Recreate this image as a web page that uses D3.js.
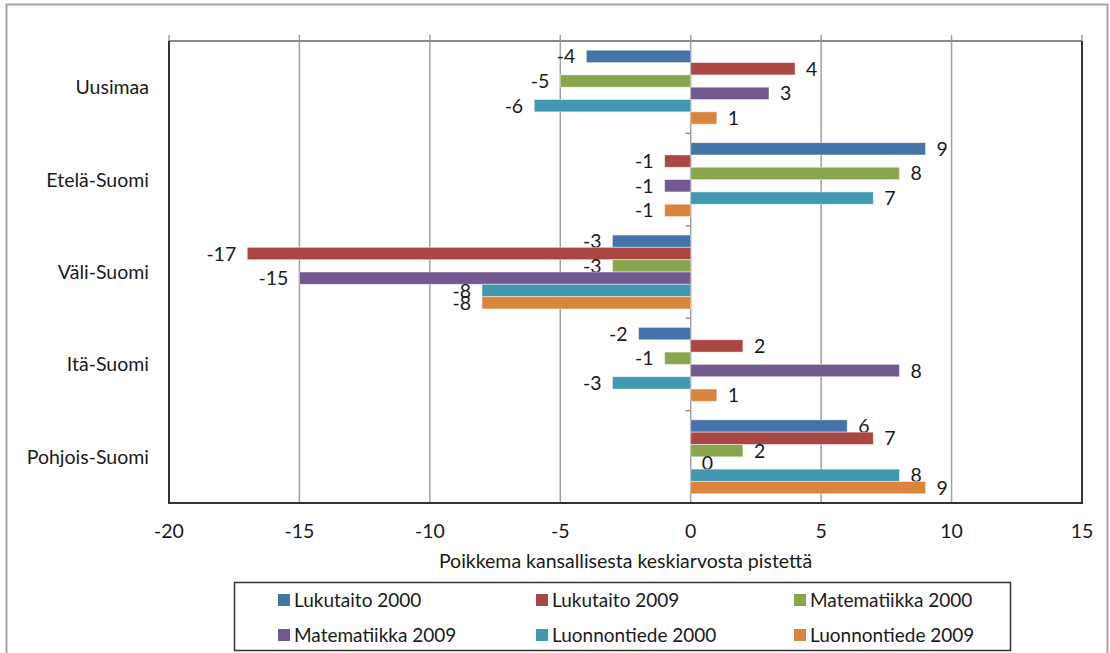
<!DOCTYPE html>
<html>
<head>
<meta charset="utf-8">
<script src="https://cdn.jsdelivr.net/npm/d3@7"></script>
<style>
  body { margin: 0; background: #fff; }
  svg text { font-family: Lato, "Open Sans", sans-serif; fill: #1a1a1a; }
</style>
</head>
<body>
<div id="chart"></div>
<script>
// Poikkema kansallisesta keskiarvosta, alueittain

const categories = ['Uusimaa', 'Etelä-Suomi', 'Väli-Suomi', 'Itä-Suomi', 'Pohjois-Suomi'];
const seriesNames = ['Lukutaito 2000', 'Lukutaito 2009', 'Matematiikka 2000',
                     'Matematiikka 2009', 'Luonnontiede 2000', 'Luonnontiede 2009'];
const lukutaito2000 = [-4, 9, -3, -2, 6];
const lukutaito2009 = [4, -1, -17, 2, 7];
const matematiikka2000 = [-5, 8, -3, -1, 2];
const matematiikka2009 = [3, -1, -15, 8, 0];
const luonnontiede2000 = [-6, 7, -8, -3, 8];
const luonnontiede2009 = [1, -1, -8, 1, 9];
const xTicks = [-20, -15, -10, -5, 0, 5, 10, 15];

const seriesValues = [lukutaito2000, lukutaito2009, matematiikka2000,
                      matematiikka2009, luonnontiede2000, luonnontiede2009];
const colors = ['#4572A7', '#AA4643', '#89A54E', '#71588F', '#4198AF', '#DB843D'];

const W = 1110, H = 653;
const plot = { left: 169, right: 1082, top: 41, bottom: 503 };
const fs = 19.5;
const legendFs = 19;

const svg = d3.select('#chart').append('svg')
  .attr('width', W).attr('height', H);

// outer chart border
svg.append('rect')
  .attr('x', 6.5).attr('y', 4.5).attr('width', 1101).attr('height', 670)
  .attr('fill', 'none').attr('stroke', '#a6a6a6').attr('stroke-width', 2);

const x = d3.scaleLinear().domain([-20, 15]).range([plot.left, plot.right]);
const y = d3.scaleBand().domain(categories).range([plot.top, plot.bottom]);
const yInner = d3.scaleBand().domain(d3.range(seriesNames.length))
  .range([0, y.bandwidth()]).paddingInner(0).paddingOuter(0.75);

// gridlines + top tick marks
svg.append('g').selectAll('line')
  .data(xTicks.filter(d => d > -20 && d < 15))
  .join('line')
  .attr('x1', d => x(d)).attr('x2', d => x(d))
  .attr('y1', plot.top - 6).attr('y2', plot.bottom)
  .attr('stroke', '#a0a0a0').attr('stroke-width', 1.5);

svg.append('g').selectAll('line')
  .data([-20, 15])
  .join('line')
  .attr('x1', d => x(d)).attr('x2', d => x(d))
  .attr('y1', plot.top - 6).attr('y2', plot.top)
  .attr('stroke', '#a0a0a0').attr('stroke-width', 1.5);

// top line
svg.append('line')
  .attr('x1', plot.left).attr('x2', plot.right)
  .attr('y1', plot.top).attr('y2', plot.top)
  .attr('stroke', '#8a8a8a').attr('stroke-width', 2);

// category ticks on the zero line
svg.append('g').selectAll('line')
  .data(categories.slice(1).map(c => y(c)).concat([plot.bottom]))
  .join('line')
  .attr('x1', x(0) - 5).attr('x2', x(0))
  .attr('y1', d => d).attr('y2', d => d)
  .attr('stroke', '#909090').attr('stroke-width', 1.5);

// bars
const groups = svg.append('g').selectAll('g')
  .data(seriesNames)
  .join('g')
  .attr('fill', (d, i) => colors[i]);

groups.each(function (name, si) {
  const vals = seriesValues[si];
  d3.select(this).selectAll('rect')
    .data(vals)
    .join('rect')
    .attr('x', v => x(Math.min(0, v)))
    .attr('width', v => Math.abs(x(v) - x(0)))
    .attr('y', (v, ci) => y(categories[ci]) + yInner(si))
    .attr('height', yInner.bandwidth())
    .attr('stroke', 'rgba(255,255,255,0.45)')
    .attr('stroke-width', 1);
});

// left / right / bottom borders
svg.append('line')
  .attr('x1', plot.left).attr('x2', plot.left)
  .attr('y1', plot.top).attr('y2', plot.bottom + 1)
  .attr('stroke', '#333').attr('stroke-width', 2);
svg.append('line')
  .attr('x1', plot.right).attr('x2', plot.right)
  .attr('y1', plot.top).attr('y2', plot.bottom + 1)
  .attr('stroke', '#333').attr('stroke-width', 2);
svg.append('line')
  .attr('x1', plot.left).attr('x2', plot.right)
  .attr('y1', plot.bottom).attr('y2', plot.bottom)
  .attr('stroke', '#333').attr('stroke-width', 2);

// value labels
groups.each(function (name, si) {
  const vals = seriesValues[si];
  d3.select(this).selectAll('text')
    .data(vals)
    .join('text')
    .attr('x', v => v < 0 ? x(v) - 11 : x(v) + 11)
    .attr('y', (v, ci) => y(categories[ci]) + yInner(si) + yInner.bandwidth() / 2)
    .attr('dy', '0.36em')
    .attr('text-anchor', v => v < 0 ? 'end' : 'start')
    .style('font-size', fs + 'px')
    .text(v => v);
});

// category labels
svg.append('g').selectAll('text')
  .data(categories)
  .join('text')
  .attr('x', 149)
  .attr('y', d => y(d) + y.bandwidth() / 2)
  .attr('dy', '0.36em')
  .attr('text-anchor', 'end')
  .style('font-size', fs + 'px')
  .text(d => d);

// x tick labels
svg.append('g').selectAll('text')
  .data(xTicks)
  .join('text')
  .attr('x', d => x(d))
  .attr('y', 531)
  .attr('dy', '0.36em')
  .attr('text-anchor', 'middle')
  .style('font-size', fs + 'px')
  .text(d => d);

// axis title
svg.append('text')
  .attr('x', (plot.left + plot.right) / 2).attr('y', 561).attr('dy', '0.36em')
  .attr('text-anchor', 'middle')
  .style('font-size', fs + 'px')
  .text('Poikkema kansallisesta keskiarvosta pistettä');

// legend
const legend = svg.append('g');
legend.append('rect')
  .attr('x', 234.5).attr('y', 582.5).attr('width', 776).attr('height', 68)
  .attr('fill', '#fff').attr('stroke', '#333').attr('stroke-width', 1.5);

const item = legend.selectAll('g')
  .data(seriesNames)
  .join('g')
  .attr('transform', (d, i) => `translate(${278 + (i % 3) * 258},${i < 3 ? 600 : 635})`);
item.append('rect')
  .attr('x', 0).attr('y', -6).attr('width', 12).attr('height', 12)
  .attr('fill', (d, i) => colors[i]);
item.append('text')
  .attr('x', 16).attr('y', 0).attr('dy', '0.36em')
  .style('font-size', legendFs + 'px')
  .text(d => d);
</script>
</body>
</html>
